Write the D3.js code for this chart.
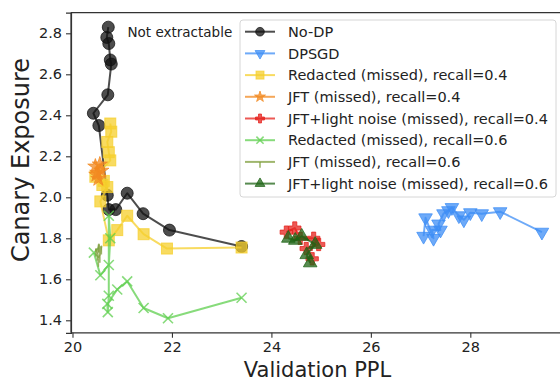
<!DOCTYPE html>
<html><head><meta charset="utf-8">
<script src="https://cdn.jsdelivr.net/npm/d3@7"></script>
<style>html,body{margin:0;padding:0;background:#fff;overflow:hidden}svg{display:block}text{font-family:"DejaVu Sans",sans-serif;fill:#222}</style>
</head><body><svg id="c" width="560" height="383"></svg>
<script>
// Series data: [Validation PPL, Canary Exposure]
const noDP = [[20.72,2.83],[20.69,2.78],[20.73,2.75],[20.76,2.67],[20.78,2.65],[20.71,2.50],[20.42,2.41],[20.53,2.35],[20.70,2.01],[20.73,1.94],[20.87,1.94],[21.10,2.02],[21.42,1.92],[21.95,1.84],[23.40,1.76]];
const dpsgd = [[27.06,1.81],[27.10,1.90],[27.26,1.80],[27.23,1.84],[27.40,1.84],[27.36,1.87],[27.46,1.92],[27.56,1.935],[27.63,1.95],[27.77,1.91],[27.87,1.89],[28.00,1.925],[28.23,1.92],[28.60,1.93],[29.44,1.83]];
const redacted04 = [[20.76,2.36],[20.78,2.32],[20.70,2.27],[20.73,2.22],[20.76,2.18],[20.46,2.10],[20.63,2.08],[20.60,2.06],[20.70,2.05],[20.56,1.98],[20.73,1.79],[20.90,1.84],[21.10,1.91],[21.43,1.82],[21.90,1.75],[23.40,1.755]];
const jft04 = [[20.46,2.15],[20.50,2.12],[20.55,2.16],[20.52,2.09],[20.58,2.13],[20.48,2.11]];
const jftNoise04 = [[24.30,1.83],[24.47,1.85],[24.58,1.80],[24.85,1.80],[24.95,1.77],[24.70,1.75],[24.82,1.70]];
const redacted06 = [[20.43,1.73],[20.56,1.62],[20.73,1.67],[20.76,1.80],[20.73,1.91],[20.73,1.52],[20.71,1.44],[20.70,1.48],[20.90,1.55],[21.10,1.59],[21.43,1.46],[21.92,1.41],[23.40,1.51]];
const jft06 = [[20.47,1.75],[20.50,1.73],[20.53,1.77],[20.55,1.72],[20.58,1.76],[20.52,1.70]];
const jftNoise06 = [[24.34,1.80],[24.48,1.79],[24.61,1.81],[24.88,1.77],[24.71,1.72],[24.78,1.68]];

const seriesNames = ["No-DP","DPSGD","Redacted (missed), recall=0.4","JFT (missed), recall=0.4","JFT+light noise (missed), recall=0.4","Redacted (missed), recall=0.6","JFT (missed), recall=0.6","JFT+light noise (missed), recall=0.6"];
const seriesData = [noDP,dpsgd,redacted04,jft04,jftNoise04,redacted06,jft06,jftNoise06];
const seriesColors = ["#111111","#3d8ef5","#f5cf2c","#f28a22","#e5221c","#5fcf4f","#7f9e3c","#1f6415"];
const seriesMarkers = ["circle","tridown","square","star","plus","x","tickdown","triangle"];
const xTicks = [20,22,24,26,28];
const yTicks = [1.4,1.6,1.8,2.0,2.2,2.4,2.6,2.8];
const xLabel = "Validation PPL", yLabel = "Canary Exposure", note = "Not extractable";

const svg = d3.select("#c");
const x = d3.scaleLinear().domain([19.97,29.89]).range([71,564.3]);
const y = d3.scaleLinear().domain([1.339,2.901]).range([332.8,12.6]);

function marker(g, type, color, cx, cy, alpha, k){
  k = k || 1;
  const t = `translate(${cx},${cy}) scale(${k})`;
  const filled = p => p.attr("fill",color).attr("fill-opacity",alpha).attr("stroke",color).attr("stroke-opacity",alpha).attr("stroke-width",1/k);
  if(type==="circle") filled(g.append("circle").attr("r",6).attr("transform",t));
  else if(type==="square") filled(g.append("rect").attr("x",-5.5).attr("y",-5.5).attr("width",11).attr("height",11).attr("transform",t));
  else if(type==="tridown") filled(g.append("path").attr("d",d3.symbol(d3.symbolTriangle,80)()).attr("transform",t+" rotate(180)"));
  else if(type==="triangle") filled(g.append("path").attr("d",d3.symbol(d3.symbolTriangle,80)()).attr("transform",t));
  else if(type==="star") filled(g.append("path").attr("d",d3.symbol(d3.symbolStar,72)()).attr("transform",t));
  else if(type==="plus") filled(g.append("path").attr("d",d3.symbol(d3.symbolCross,85)()).attr("transform",t));
  else if(type==="x") g.append("path").attr("d","M-5,-5L5,5M-5,5L5,-5").attr("transform",t).attr("fill","none").attr("stroke",color).attr("stroke-width",1.6/k).attr("stroke-opacity",alpha);
  else if(type==="tickdown") g.append("path").attr("d","M0,0L0,8").attr("transform",t).attr("fill","none").attr("stroke",color).attr("stroke-width",1.6/k).attr("stroke-opacity",alpha);
}

const plot = svg.append("g");
const line = d3.line().x(d=>x(d[0])).y(d=>y(d[1]));
seriesData.forEach((data,i)=>{
  const g = plot.append("g");
  g.append("path").attr("d",line(data)).attr("fill","none").attr("stroke",seriesColors[i]).attr("stroke-width",2).attr("stroke-opacity",0.75).attr("stroke-linejoin","round");
  data.forEach(d=>marker(g,seriesMarkers[i],seriesColors[i],x(d[0]),y(d[1]),0.75,1));
});

// spines
svg.append("line").attr("x1",71).attr("x2",71).attr("y1",12.6).attr("y2",332.8).attr("stroke","#333").attr("stroke-width",1.2);
svg.append("line").attr("x1",71).attr("x2",600).attr("y1",12.6).attr("y2",12.6).attr("stroke","#333").attr("stroke-width",1.2);
const xAxis = svg.append("g").attr("transform","translate(0,332.8)").call(d3.axisBottom(x).tickValues(xTicks).tickFormat(d3.format("d")).tickSize(5).tickPadding(4));
const yAxis = svg.append("g").attr("transform","translate(71,0)").call(d3.axisLeft(y).tickValues(yTicks).tickFormat(d3.format(".1f")).tickSize(5).tickPadding(4));
[xAxis,yAxis].forEach(a=>{
  a.select(".domain").attr("stroke","#333").attr("stroke-width",1.2);
  a.selectAll(".tick line").attr("stroke","#333").attr("stroke-width",1.1);
  a.selectAll("text").attr("font-size",14.5).attr("font-family","DejaVu Sans").attr("fill","#222");
});
xAxis.select(".domain").attr("d","M71,0H600");

svg.append("text").attr("x",317.5).attr("y",377).attr("text-anchor","middle").attr("font-size",21).text(xLabel);
svg.append("text").attr("transform","translate(29,160) rotate(-90)").attr("text-anchor","middle").attr("font-size",24).text(yLabel);
svg.append("text").attr("x",127.5).attr("y",37.3).attr("font-size",13.5).text(note);

// legend
const lg = svg.append("g");
lg.append("rect").attr("x",240).attr("y",20).attr("width",316).attr("height",177).attr("rx",3).attr("fill","#fff").attr("fill-opacity",0.8).attr("stroke","#d6d6d6").attr("stroke-width",1);
seriesNames.forEach((name,i)=>{
  const cy = 31.7 + i*21.7;
  lg.append("line").attr("x1",245).attr("x2",275).attr("y1",cy).attr("y2",cy).attr("stroke",seriesColors[i]).attr("stroke-width",2).attr("stroke-opacity",0.75);
  marker(lg,seriesMarkers[i],seriesColors[i],260,cy,0.75,0.72);
  lg.append("text").attr("x",288).attr("y",cy+5.2).attr("font-size",14.5).text(name);
});
</script></body></html>
